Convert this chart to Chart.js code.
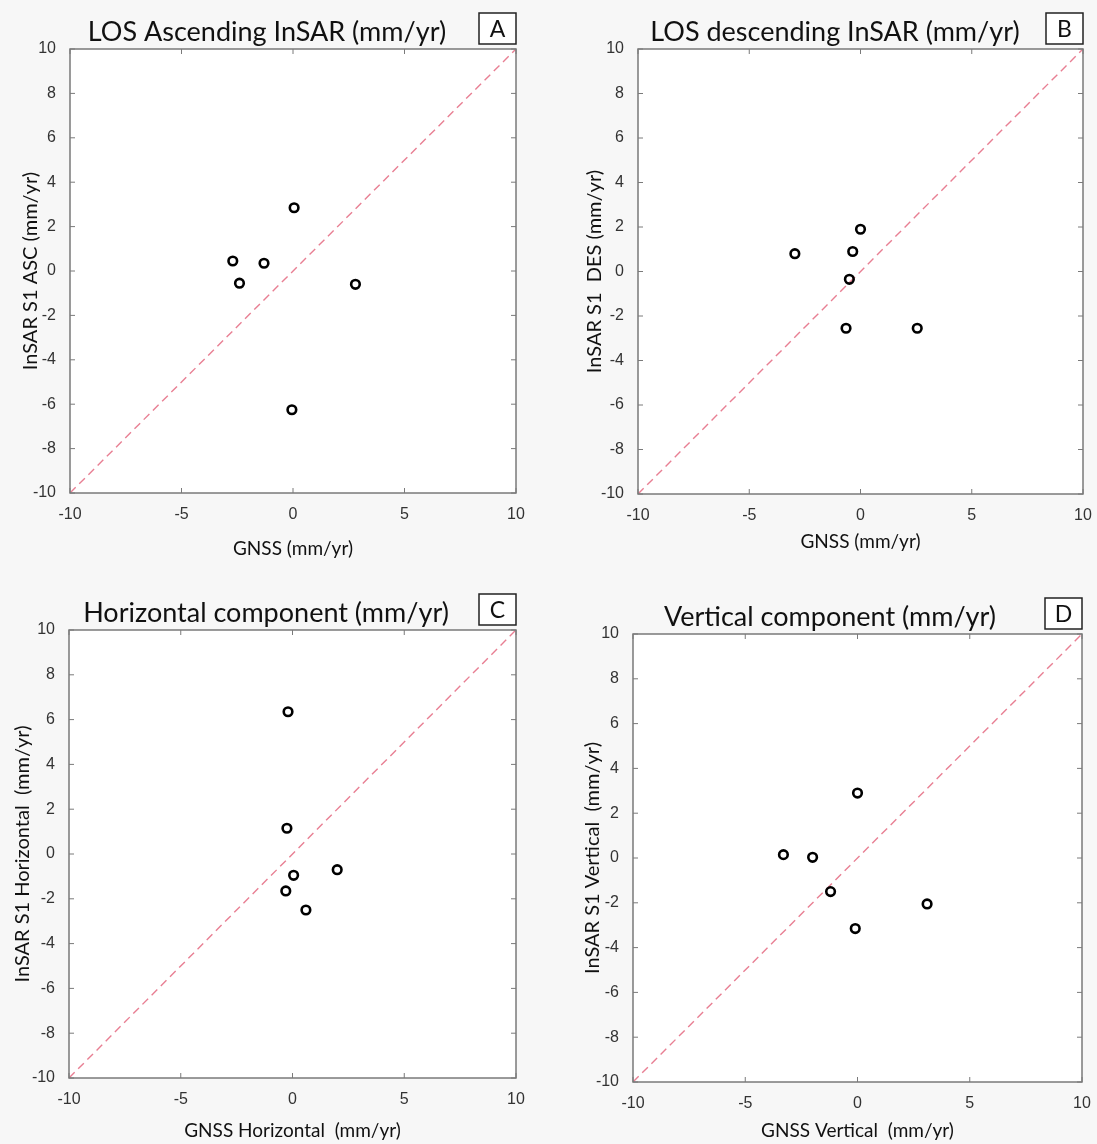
<!DOCTYPE html>
<html lang="en">
<head>
    <meta charset="UTF-8">
    <title>InSAR vs GNSS</title>
    <script src="https://cdn.jsdelivr.net/npm/chart.js"></script>
    <style>
        body { margin: 0; background: #f7f7f7; }
        #wrap { position: relative; width: 1097px; height: 1144px; overflow: hidden; }
        canvas { position: absolute; }
    </style>
</head>
<body>
<div id="wrap">
    <canvas id="panelA" width="548" height="600" style="left:0;top:0"></canvas>
    <canvas id="panelB" width="549" height="600" style="left:548px;top:0"></canvas>
    <canvas id="panelC" width="548" height="600" style="left:0;top:544px"></canvas>
    <canvas id="panelD" width="549" height="600" style="left:548px;top:544px"></canvas>
</div>

<script>
// values (mm/yr)
const ascGnss  = [-2.7, -2.4, -1.3, 0.05, 2.8, -0.05];
const ascInsar = [0.45, -0.55, 0.35, 2.85, -0.6, -6.25];

const desGnss  = [-2.95, -0.35, 0.0, -0.5, -0.65, 2.55];
const desInsar = [0.8, 0.9, 1.9, -0.35, -2.55, -2.55];

const horGnss  = [-0.2, -0.25, 0.05, -0.3, 0.6, 2.0];
const horInsar = [6.35, 1.15, -0.95, -1.65, -2.5, -0.7];

const verGnss  = [-3.3, -2.0, -1.2, 0.0, -0.1, 3.1];
const verInsar = [0.15, 0.03, -1.5, 2.9, -3.15, -2.05];

const axisMin = -10, axisMax = 10;
const xTicks = [-10, -5, 0, 5, 10];
const yTicks = [-10, -8, -6, -4, -2, 0, 2, 4, 6, 8, 10];
const oneToOne = [{x: axisMin, y: axisMin}, {x: axisMax, y: axisMax}];

const panels = [
    {id: 'panelA', letter: 'A', title: 'LOS Ascending InSAR (mm/yr)', xLabel: 'GNSS (mm/yr)', yLabel: 'InSAR S1 ASC (mm/yr)',
     gnss: ascGnss, insar: ascInsar, area: {l: 70, t: 49, r: 516, b: 493}, yTitlePad: 19, xTitleY: 549},
    {id: 'panelB', letter: 'B', title: 'LOS descending InSAR (mm/yr)', xLabel: 'GNSS (mm/yr)', yLabel: 'InSAR S1  DES (mm/yr)',
     gnss: desGnss, insar: desInsar, area: {l: 90, t: 49, r: 535, b: 494}, yTitlePad: 35, xTitleY: 542},
    {id: 'panelC', letter: 'C', title: 'Horizontal component (mm/yr)', xLabel: 'GNSS Horizontal  (mm/yr)', yLabel: 'InSAR S1 Horizontal  (mm/yr)',
     gnss: horGnss, insar: horInsar, area: {l: 69, t: 86, r: 516, b: 534}, yTitlePad: 11, xTitleY: 587},
    {id: 'panelD', letter: 'D', title: 'Vertical component (mm/yr)', xLabel: 'GNSS Vertical  (mm/yr)', yLabel: 'InSAR S1 Vertical  (mm/yr)',
     gnss: verGnss, insar: verInsar, area: {l: 85, t: 90, r: 534, b: 538}, yTitlePad: 33, xTitleY: 587}
];

const X_AXIS_H = 70;
const labelFont = 'Lato, "Noto Sans", sans-serif';
const tickFont = {family: '"Liberation Sans", Arial, sans-serif', size: 16};

// MATLAB style frame, inward ticks, title and panel letter
const framePlugin = {
    id: 'frame',
    beforeDraw(chart) {
        const {ctx, chartArea: a} = chart;
        ctx.save();
        ctx.fillStyle = '#ffffff';
        ctx.fillRect(a.left, a.top, a.right - a.left, a.bottom - a.top);
        ctx.restore();
    },
    afterDraw(chart, args, opts) {
        const {ctx, chartArea: a, scales} = chart;
        ctx.save();
        ctx.strokeStyle = '#7a7a7a';
        ctx.lineWidth = 1.5;
        ctx.strokeRect(a.left, a.top, a.right - a.left, a.bottom - a.top);
        ctx.lineWidth = 1;
        ctx.beginPath();
        xTicks.forEach(v => {
            const px = scales.x.getPixelForValue(v);
            ctx.moveTo(px, a.bottom); ctx.lineTo(px, a.bottom - 5);
            ctx.moveTo(px, a.top); ctx.lineTo(px, a.top + 5);
        });
        yTicks.forEach(v => {
            const py = scales.y.getPixelForValue(v);
            ctx.moveTo(a.left, py); ctx.lineTo(a.left + 5, py);
            ctx.moveTo(a.right, py); ctx.lineTo(a.right - 5, py);
        });
        ctx.stroke();

        // title
        ctx.fillStyle = '#111';
        ctx.font = '27px ' + labelFont;
        ctx.textAlign = 'center';
        ctx.textBaseline = 'middle';
        ctx.fillText(opts.title, a.left + 197, a.top - 17);

        // letter box
        const bw = 37, bh = 31;
        const bx = a.right - bw, by = a.top - 5 - bh;
        ctx.fillStyle = '#ffffff';
        ctx.fillRect(bx, by, bw, bh);
        ctx.strokeStyle = '#222';
        ctx.lineWidth = 1.5;
        ctx.strokeRect(bx, by, bw, bh);
        ctx.fillStyle = '#111';
        ctx.font = '23px ' + labelFont;
        ctx.fillText(opts.letter, bx + bw / 2, by + bh / 2 + 1);
        ctx.restore();
    }
};

function makePanel(p) {
    const canvas = document.getElementById(p.id);
    const W = canvas.width, H = canvas.height;
    const xLineH = 19 * 1.2;
    new Chart(canvas.getContext('2d'), {
        type: 'scatter',
        data: {
            datasets: [
                {
                    data: oneToOne,
                    showLine: true,
                    borderColor: 'rgba(228, 105, 128, 0.85)',
                    borderWidth: 1.4,
                    borderDash: [8, 5],
                    pointRadius: 0,
                    order: 2
                },
                {
                    data: p.gnss.map((g, i) => ({x: g, y: p.insar[i]})),
                    pointStyle: 'circle',
                    pointRadius: 4.3,
                    pointBorderWidth: 2.6,
                    pointBorderColor: '#000',
                    pointBackgroundColor: 'rgba(0,0,0,0)',
                    order: 1
                }
            ]
        },
        options: {
            responsive: false,
            animation: false,
            devicePixelRatio: 1,
            layout: {
                padding: {left: 0, top: p.area.t, right: W - p.area.r, bottom: H - p.area.b - X_AXIS_H}
            },
            plugins: {
                legend: {display: false},
                tooltip: {enabled: false},
                frame: {title: p.title, letter: p.letter}
            },
            scales: {
                x: {
                    type: 'linear',
                    min: axisMin, max: axisMax,
                    afterFit: s => { s.height = X_AXIS_H; },
                    afterBuildTicks: s => { s.ticks = xTicks.map(v => ({value: v})); },
                    grid: {display: false},
                    border: {display: false},
                    ticks: {color: '#333', padding: 4, font: tickFont},
                    title: {
                        display: true, text: p.xLabel, color: '#111',
                        font: {family: labelFont, size: 19},
                        padding: {top: 0, bottom: p.area.b + X_AXIS_H - xLineH / 2 - p.xTitleY}
                    }
                },
                y: {
                    type: 'linear',
                    min: axisMin, max: axisMax,
                    afterFit: s => { s.width = p.area.l; },
                    afterBuildTicks: s => { s.ticks = yTicks.map(v => ({value: v})); },
                    grid: {display: false},
                    border: {display: false},
                    ticks: {color: '#333', padding: 6, font: tickFont},
                    title: {
                        display: true, text: p.yLabel, color: '#111',
                        font: {family: labelFont, size: 20},
                        padding: {top: p.yTitlePad, bottom: 0}
                    }
                }
            }
        },
        plugins: [framePlugin]
    });
}

panels.forEach(makePanel);
</script>
</body>
</html>
